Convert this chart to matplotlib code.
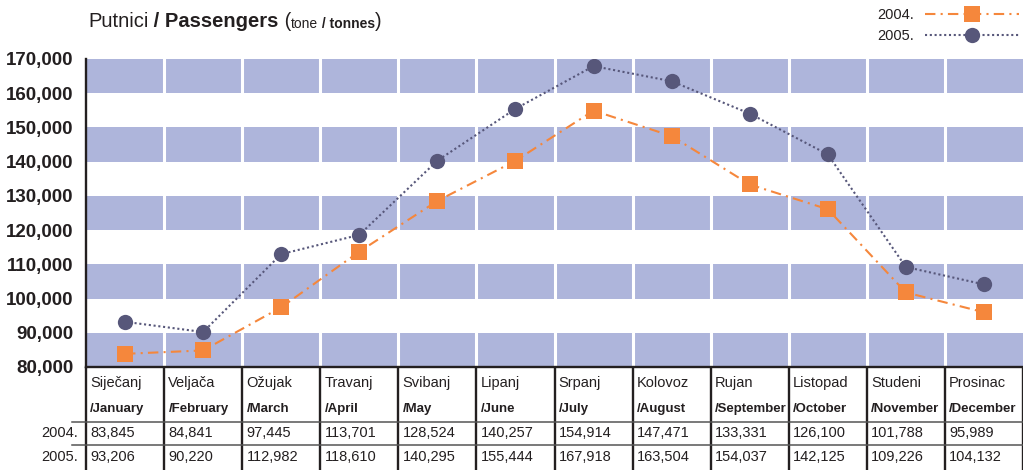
import matplotlib
matplotlib.use('Agg')
import matplotlib.pyplot as plt
import matplotlib.transforms as mtransforms

months_hr = ['Siječanj', 'Veljača', 'Ožujak', 'Travanj', 'Svibanj', 'Lipanj',
             'Srpanj', 'Kolovoz', 'Rujan', 'Listopad', 'Studeni', 'Prosinac']
months_en = ['/January', '/February', '/March', '/April', '/May', '/June',
             '/July', '/August', '/September', '/October', '/November', '/December']
years = ['2004.', '2005.']
pax_2004 = [83845, 84841, 97445, 113701, 128524, 140257,
            154914, 147471, 133331, 126100, 101788, 95989]
pax_2005 = [93206, 90220, 112982, 118610, 140295, 155444,
            167918, 163504, 154037, 142125, 109226, 104132]
y_ticks = [80000, 90000, 100000, 110000, 120000, 130000, 140000, 150000, 160000, 170000]

ORANGE = '#F5873C'
SLATE = '#57577A'
BAND = '#AEB5DB'
INK = '#231F20'

plt.rcParams['font.family'] = ['Liberation Sans', 'DejaVu Sans']
plt.rcParams['text.color'] = INK

W, H = 1023, 470
fig = plt.figure(figsize=(W / 100, H / 100), dpi=100)
ax_left, ax_right, ax_top, ax_bot = 86, 1023, 59, 367
ax = fig.add_axes([ax_left / W, 1 - ax_bot / H, (ax_right - ax_left) / W, (ax_bot - ax_top) / H])
ax_h = ax_bot - ax_top


def below(px):
    # pixel row in the figure -> axes fraction (negative below the axes)
    return -(px - ax_bot) / ax_h


n = len(months_hr)
xs = list(range(n))
ax.set_xlim(-0.5, n - 0.5)
ax.set_ylim(y_ticks[0], y_ticks[-1])

# shaded bands with white column gaps
for lo in y_ticks[::2]:
    ax.axhspan(lo, lo + 10000, color=BAND, lw=0, zorder=0)
for i in range(1, n):
    ax.axvline(i - 0.5, color='white', lw=2.2, zorder=1)

l04, = ax.plot(xs, pax_2004, color=ORANGE, lw=1.5, linestyle=(0, (5, 2.5, 1, 2.5)),
               marker='s', markersize=11.5, markeredgewidth=0, zorder=3, label='2004.')
l05, = ax.plot(xs, pax_2005, color=SLATE, lw=1.5, linestyle=(0, (1, 1.3)),
               marker='o', markersize=11, markeredgewidth=0, zorder=4, label='2005.')

ax.set_xticks([])
ax.set_yticks(y_ticks)
ax.set_yticklabels([f'{v:,}' for v in y_ticks], fontsize=13.5, fontweight='bold')
ax.tick_params(axis='y', length=0, pad=9, colors=INK)
for s in ['top', 'right']:
    ax.spines[s].set_visible(False)
for s in ['left', 'bottom']:
    ax.spines[s].set_linewidth(1.7)
    ax.spines[s].set_color(INK)

# table below the axes
trans = mtransforms.blended_transform_factory(ax.transData, ax.transAxes)
bottom = below(H)
for i in range(n + 1):
    ax.plot([i - 0.5, i - 0.5], [0, bottom], color=INK, lw=1.7, transform=trans,
            clip_on=False, solid_capstyle='butt')
for ypx in [422, 445]:
    ax.plot([-53 / 78, n - 0.5], [below(ypx)] * 2, color='#555555', lw=1.1,
            transform=trans, clip_on=False)

pad = 0.055
for i in range(n):
    ax.text(i - 0.5 + pad, below(383), months_hr[i], transform=trans,
            fontsize=10.5, ha='left', va='center')
    ax.text(i - 0.5 + pad, below(409), months_en[i], transform=trans,
            fontsize=9.5, fontweight='bold', ha='left', va='center')
    ax.text(i - 0.5 + pad, below(433), f'{pax_2004[i]:,}', transform=trans,
            fontsize=10.5, ha='left', va='center')
    ax.text(i - 0.5 + pad, below(457), f'{pax_2005[i]:,}', transform=trans,
            fontsize=10.5, ha='left', va='center')
for yr, ypx in zip(years, [433, 457]):
    ax.text(-0.5 - 0.1, below(ypx), yr, transform=trans,
            fontsize=10.5, ha='right', va='center')

# title built from pieces
pieces = [('Putnici', 14.5, 'normal'), (' / Passengers', 14.5, 'bold'), (' (', 14.5, 'normal'),
          ('tone', 10, 'normal'), (' / tonnes', 10, 'bold'), (')', 14.5, 'normal')]
prev = fig.text(88 / W, 1 - 31 / H, pieces[0][0], fontsize=pieces[0][1],
                fontweight=pieces[0][2], va='bottom')
for txt, fs, fw in pieces[1:]:
    prev = ax.annotate(txt, xy=(1, 0), xycoords=prev, va='bottom', ha='left',
                       fontsize=fs, fontweight=fw, annotation_clip=False)

ax.legend(handles=[l04, l05], loc='upper right', bbox_to_anchor=(1.0, 1 - 4 / H),
          bbox_transform=fig.transFigure, frameon=False, markerfirst=False,
          handlelength=6.4, fontsize=10.5, labelspacing=0.45, borderaxespad=0.1,
          borderpad=0.2, handletextpad=0.8, numpoints=1)

fig.savefig('out.png', dpi=100)
